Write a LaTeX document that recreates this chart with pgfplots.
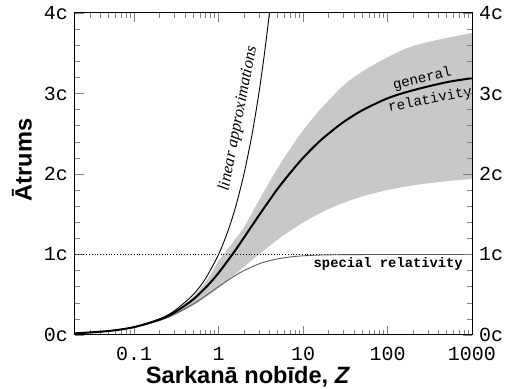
\documentclass[border=0pt]{standalone}
\usepackage{fontspec}
\setmainfont{Liberation Serif}
\setsansfont{Liberation Sans}
\setmonofont{Liberation Mono}
\usepackage{pgfplots}
\pgfplotsset{compat=1.18}
\usepgfplotslibrary{fillbetween}
\definecolor{band}{RGB}{200,200,202}
\definecolor{spec}{RGB}{90,90,90}

\begin{document}
\begin{tikzpicture}
\begin{axis}[
  width=198.5pt, height=161pt, scale only axis,
  xmode=log, xmin=0.02, xmax=1000, ymin=0, ymax=4,
  tick align=inside, major tick length=4.5pt, minor tick length=2.5pt,
  axis line style={line width=0.5pt},
  ytick={0,1,2,3,4},
  yticklabels={\texttt{0c},\texttt{1c},\texttt{2c},\texttt{3c},\texttt{4c}},
  minor ytick={0.2,0.4,0.6,0.8,1.2,1.4,1.6,1.8,2.2,2.4,2.6,2.8,3.2,3.4,3.6,3.8},
  yticklabel style={font=\fontsize{10}{12}\selectfont},
  xtick={0.1,1,10,100,1000},
  xticklabels={\texttt{0.1},\texttt{1},\texttt{10},\texttt{100},\texttt{1000}},
  minor xtick={0.03,0.04,0.05,0.06,0.07,0.08,0.09,0.2,0.3,0.4,0.5,0.6,0.7,0.8,0.9,2,3,4,5,6,7,8,9,20,30,40,50,60,70,80,90,200,300,400,500,600,700,800,900},
  xticklabel style={font=\fontsize{10}{12}\selectfont, yshift=-2.5pt},
  yticklabel pos=left,
]
% band edges
\addplot[name path=up, draw=none, smooth] coordinates {
 (0.02,0.0200) (0.05,0.0498) (0.1,0.0988) (0.2,0.196) (0.3,0.290) (0.5,0.475)
 (0.75,0.70) (1,0.92) (1.5,1.16) (2,1.34) (3,1.67) (4,1.90) (5,2.07) (7,2.31) (10,2.54)
 (15,2.77) (20,2.91) (30,3.10) (50,3.27) (100,3.45) (200,3.59) (500,3.69) (1000,3.75)
};
\addplot[name path=lo, draw=none, smooth] coordinates {
 (0.02,0.0198) (0.05,0.0482) (0.1,0.093) (0.2,0.174) (0.3,0.246) (0.5,0.367) (0.75,0.488)
 (1,0.586) (1.5,0.735) (2,0.845) (3,1.000) (5,1.184) (7,1.293) (10,1.397) (15,1.500)
 (20,1.564) (30,1.641) (50,1.720) (100,1.801) (200,1.859) (500,1.911) (1000,1.937)
};
\addplot[fill=band, draw=none] fill between[of=up and lo];
\addplot[black, densely dotted, line width=0.4pt] coordinates {(0.02,1) (1000,1)};
\addplot[spec, line width=0.45pt, smooth] coordinates {
 (0.02,0.0198) (0.05,0.0488) (0.1,0.0950) (0.2,0.1803) (0.3,0.2565) (0.5,0.3846)
 (0.75,0.5077) (1,0.6) (1.5,0.7241) (2,0.8) (3,0.8824) (4,0.9231) (5,0.9459) (7,0.9692)
 (10,0.9836) (15,0.9922) (20,0.9955) (30,0.9979) (50,0.9992) (100,0.9998) (1000,1.0)
};
\addplot[black, line width=0.45pt, smooth] coordinates {
 (0.02,0.02) (0.05,0.05) (0.1,0.1) (0.2,0.2) (0.3,0.3) (0.5,0.5) (0.7,0.7) (1,1)
 (1.3,1.3) (1.6,1.6) (2,2) (2.5,2.5) (3,3) (3.5,3.5) (4,4) (4.5,4.5)
};
\addplot[black, line width=1.0pt, smooth] coordinates {
 (0.02,0.0199) (0.05,0.0494) (0.1,0.0977) (0.2,0.1912) (0.3,0.2789) (0.5,0.441)
 (0.75,0.6185) (1,0.771) (1.5,1.019) (2,1.2095) (3,1.484) (4,1.672) (5,1.816) (7,2.009)
 (10,2.20) (15,2.387) (20,2.50) (30,2.644) (50,2.79) (100,2.94) (200,3.04) (500,3.14) (1000,3.19)
};
\node[rotate=79, font=\fontsize{8.3}{10}\selectfont\itshape] at (axis cs:1.72,2.69) {linear approximations};
\node[rotate=13, font=\fontsize{7.1}{8}\selectfont\ttfamily] at (axis cs:258,3.18) {general};
\node[rotate=11, font=\fontsize{7.1}{8}\selectfont\ttfamily] at (axis cs:321,2.92) {relativity};
\node[font=\fontsize{6.9}{8}\selectfont\ttfamily\bfseries] at (axis cs:102,0.88) {special relativity};
\end{axis}
\begin{axis}[
  width=198.5pt, height=161pt, scale only axis,
  xmode=log, xmin=0.02, xmax=1000, ymin=0, ymax=4,
  tick align=inside, major tick length=4.5pt, minor tick length=2.5pt,
  axis line style={line width=0.5pt},
  ytick={0,1,2,3,4},
  yticklabels={\texttt{0c},\texttt{1c},\texttt{2c},\texttt{3c},\texttt{4c}},
  minor ytick={0.2,0.4,0.6,0.8,1.2,1.4,1.6,1.8,2.2,2.4,2.6,2.8,3.2,3.4,3.6,3.8},
  yticklabel style={font=\fontsize{10}{12}\selectfont},
  xtick=\empty,
  axis x line=none, axis y line*=right,
]
\end{axis}
\node[rotate=90, font=\fontsize{11.8}{14}\selectfont\sffamily\bfseries] at (-26.5pt,87.5pt) {Ātrums};
\node[font=\fontsize{11.8}{14}\selectfont\sffamily\bfseries] at (86.5pt,-21pt) {Sarkanā nobīde, \textit{Z}};
\pgfresetboundingbox
\path[use as bounding box] (-37.5pt,-27pt) rectangle (215pt,167.5pt);
\end{tikzpicture}
\end{document}
